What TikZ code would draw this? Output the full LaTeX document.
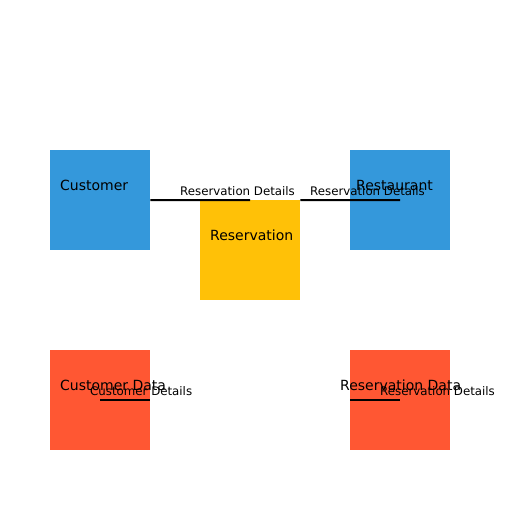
\documentclass[tikz,border=0pt]{standalone}
\usepackage{fontspec}
\setmainfont{DejaVu Sans}
\definecolor{cblue}{HTML}{3498DB}
\definecolor{cyellow}{HTML}{FFC107}
\definecolor{cred}{HTML}{FF5733}
\begin{document}
\begin{tikzpicture}[x=1pt,y=-1pt,
  box/.style={minimum width=100pt,minimum height=100pt,inner sep=0pt,draw=none,anchor=north west},
  boxlabel/.style={anchor=base west,inner sep=0pt,font=\fontsize{14}{16}\selectfont},
  flowlabel/.style={anchor=base west,inner sep=0pt,font=\fontsize{11.8}{13}\selectfont},
  flow/.style={draw=black,line width=2pt}]
\useasboundingbox (0,0) rectangle (512,512);
\fill[white] (0,0) rectangle (512,512);
\node[box,fill=cblue] (cust) at (50,150) {};
\node[box,fill=cyellow] (res) at (200,200) {};
\node[box,fill=cblue] (rest) at (350,150) {};
\node[box,fill=cred] (custdata) at (50,350) {};
\node[box,fill=cred] (resdata) at (350,350) {};
\draw[flow] (cust.east) -- (res.north);
\draw[flow] (res.north east) -- (rest.center);
\draw[flow] (custdata.center) -- (custdata.east);
\draw[flow] (resdata.west) -- (resdata.center);
\node[boxlabel] (lcust) at (60,190) {Customer};
\node[boxlabel] (lres) at (210,240) {Reservation};
\node[boxlabel] (lrest) at (356,190.5) {Restaurant};
\node[boxlabel] (lcustdata) at (60,390) {Customer Data};
\node[boxlabel] (lresdata) at (340,390) {Reservation Data};
\node[flowlabel] (f1) at (180,195) {Reservation Details};
\node[flowlabel] (f2) at (310,195) {Reservation Details};
\node[flowlabel] (f3) at (90,395) {Customer Details};
\node[flowlabel] (f4) at (380,395) {Reservation Details};
\end{tikzpicture}
\end{document}
